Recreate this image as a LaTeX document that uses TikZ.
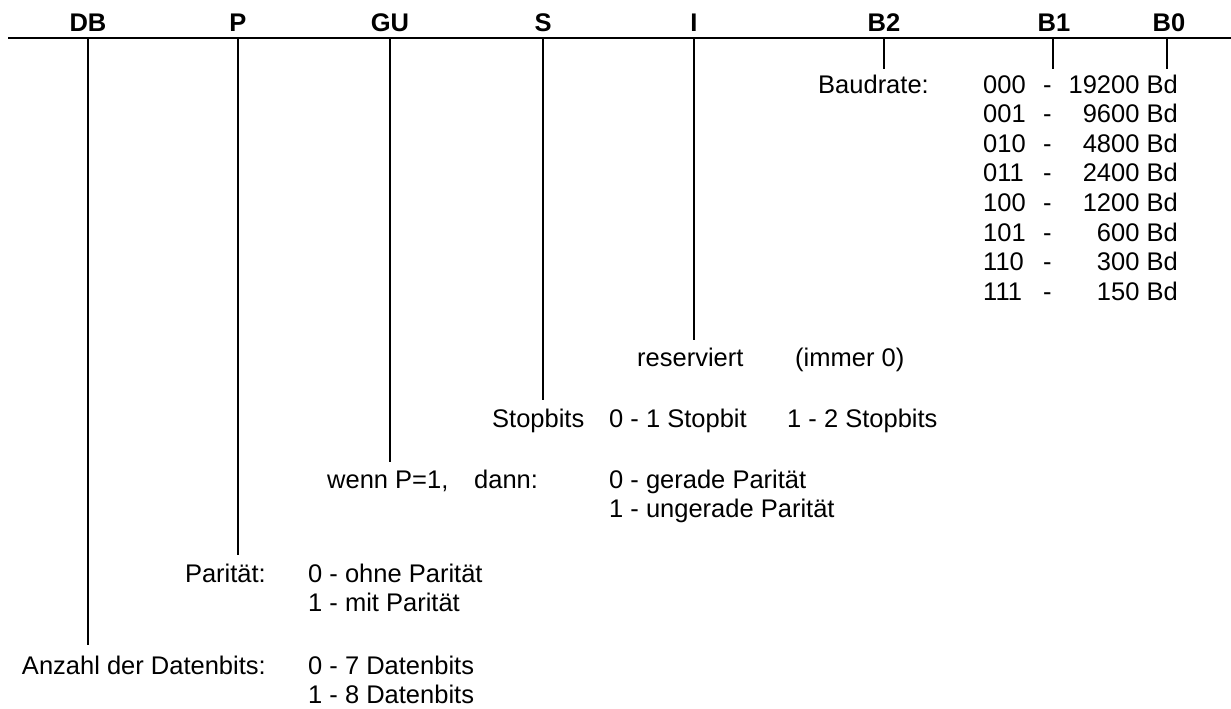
\documentclass[tikz,border=0pt]{standalone}
\usepackage{fontspec}
\setmainfont{Liberation Sans}
\begin{document}
\begin{tikzpicture}[x=1pt,y=-1pt,
  txt/.style={inner sep=0pt,font=\fontsize{25.5}{30}\selectfont},
  lbl/.style={txt,anchor=base west},
  lble/.style={txt,anchor=base east},
  head/.style={inner sep=0pt,anchor=base,font=\fontsize{25.5}{30}\selectfont\bfseries},
  tick/.style={line width=1.3pt},
  bar/.style={line width=1.8pt}]
\useasboundingbox (0,0) rectangle (1231,709);
% header labels
\node[head] (hDB) at (88,32) {DB};
\node[head] (hP)  at (238,32) {P};
\node[head] (hGU) at (390,32) {GU};
\node[head] (hS)  at (543,32) {S};
\node[head] (hI)  at (694,32) {I};
\node[head] (hB2) at (884,32) {B2};
\node[head] (hB1) at (1054,32) {B1};
\node[head] (hB0) at (1169,32) {B0};
% bar
\coordinate (lL) at (8,38);
\coordinate (lR) at (1231,38);
\draw[bar] (lL) -- (lR);
% ticks
\foreach \n/\x/\e in {DB/88/645,P/238/555,GU/390/462,S/543/400,I/694/340,B2/884/69,B1/1053/69,B0/1167/69}{
  \coordinate (s\n) at (\x,38);
  \coordinate (e\n) at (\x,\e);
  \draw[tick] (s\n) -- (e\n);
}
% baudrate
\node[lbl] (baud) at (818,93) {Baudrate:};
\foreach \c/\v [count=\i from 0] in {000/19200,001/9600,010/4800,011/2400,100/1200,101/600,110/300,111/150}{
  \node[lbl] (code\i) at (983,{93+29.6*\i}) {\c};
  \node[lbl] (dash\i) at (1043,{93+29.6*\i}) {-};
  \node[lble] (val\i) at (1178,{93+29.6*\i}) {\v\ Bd};
}
% reserviert
\node[lbl] (res) at (637,366) {reserviert};
\node[lbl] (imm) at (795,366) {(immer 0)};
% stopbits
\node[lbl] (stop) at (492,427) {Stopbits};
\node[lbl] (stop0) at (609,427) {0 - 1 Stopbit};
\node[lbl] (stop1) at (787,427) {1 - 2 Stopbits};
% GU
\node[lbl] (wenn) at (327,488) {wenn P=1,};
\node[lbl] (dann) at (474,488) {dann:};
\node[lbl] (gu0) at (609,488) {0 - gerade Parität};
\node[lbl] (gu1) at (609,517) {1 - ungerade Parität};
% P
\node[lble] (par) at (266,582) {Parität:};
\node[lbl] (par0) at (308,582) {0 - ohne Parität};
\node[lbl] (par1) at (308,611) {1 - mit Parität};
% DB
\node[lble] (anz) at (266,674) {Anzahl der Datenbits:};
\node[lbl] (db0) at (308,674) {0 - 7 Datenbits};
\node[lbl] (db1) at (308,703) {1 - 8 Datenbits};
\end{tikzpicture}
\end{document}
